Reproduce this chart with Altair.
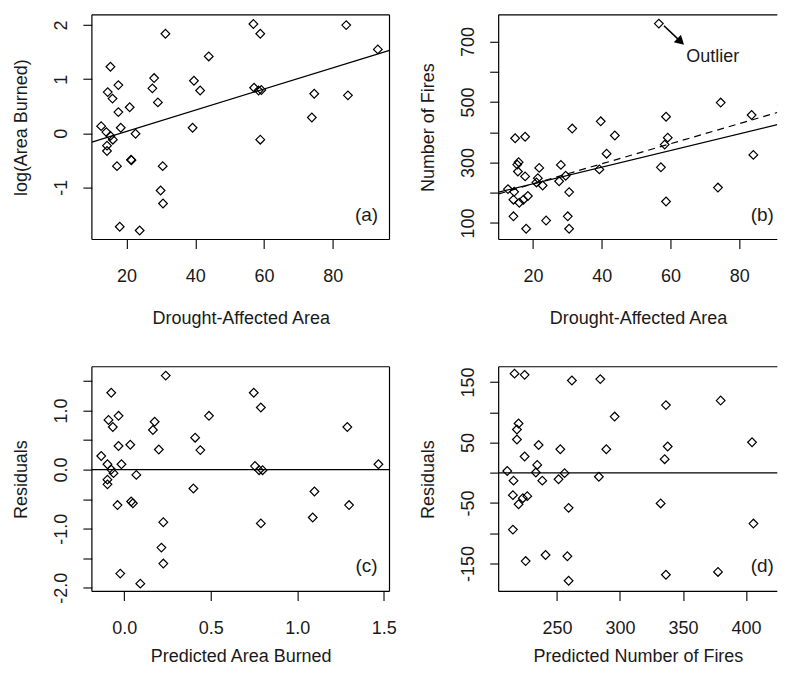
import altair as alt
import pandas as pd

# ---------------- data ----------------
# (a) drought-affected area vs log(area burned)
a_drought = [31.3, 43.9, 15.3, 28.0, 39.6, 17.6, 14.5, 27.5, 41.4, 15.9, 29.1, 20.9,
             17.6, 12.6, 18.3, 39.2, 14.1, 15.3, 16.0, 22.6, 14.3, 14.3, 21.3, 21.4,
             17.2, 30.5, 29.9, 30.6, 18.0, 23.8, 56.9, 58.9, 83.9, 93.1, 57.1, 58.4,
             59.2, 74.6, 84.4, 73.9, 58.9]
a_logarea = [1.84, 1.42, 1.23, 1.02, 0.97, 0.89, 0.76, 0.83, 0.79, 0.64, 0.57, 0.48,
             0.39, 0.13, 0.10, 0.10, 0.02, -0.05, -0.12, -0.01, -0.23, -0.33, -0.49, -0.50,
             -0.61, -0.61, -1.06, -1.30, -1.73, -1.80, 2.02, 1.84, 2.00, 1.55, 0.84, 0.79,
             0.80, 0.73, 0.70, 0.29, -0.12]
a_fit_x = [9.9, 96.5]
a_fit_y = [-0.164, 1.533]

# (b) drought-affected area vs number of fires
b_drought = [31.4, 39.7, 43.8, 14.8, 17.7, 41.4, 28.1, 15.8, 15.4, 15.6, 21.8, 17.7,
             39.3, 21.4, 29.5, 27.6, 21.0, 22.8, 12.7, 14.5, 30.5, 14.3, 16.0, 17.2,
             18.5, 14.3, 23.8, 30.1, 18.0, 30.5, 56.6, 74.6, 58.7, 83.6, 92.6, 59.2,
             58.3, 57.2, 84.1, 73.8, 58.7]
b_fires = [412, 436, 389, 380, 385, 329, 292, 301, 293, 270, 282, 254,
           277, 248, 256, 238, 234, 224, 212, 203, 202, 177, 167, 177,
           189, 122, 108, 122, 81, 81, 759, 498, 451, 457, 490, 382,
           359, 284, 325, 217, 171]
b_fit_x = [10.0, 91.07]
b_fit_y = [202, 425]          # solid line
b_fit_out_y = [196, 465]      # dashed line (fit including the outlier)

# (c) predicted log area burned vs residuals
c_pred = [0.24, -0.075, -0.033, -0.091, -0.066, 0.176, 0.166, 0.49, 0.41, 0.44, -0.033,
          0.035, 0.20, -0.133, -0.097, -0.016, -0.075, -0.062, 0.07, -0.097, -0.097,
          0.40, 0.04, 0.05, -0.039, 0.226, 0.215, 0.226, -0.023, 0.093, 0.749, 0.79,
          1.29, 1.47, 0.756, 0.78, 0.80, 1.10, 1.30, 1.09, 0.79]
c_resid = [1.59, 1.30, 0.91, 0.84, 0.72, 0.81, 0.67, 0.91, 0.54, 0.33, 0.40,
           0.42, 0.34, 0.23, 0.09, 0.09, 0.0, -0.06, -0.09, -0.17, -0.25,
           -0.32, -0.54, -0.57, -0.60, -0.89, -1.32, -1.59, -1.76, -1.93, 1.30, 1.05,
           0.72, 0.09, 0.06, -0.01, -0.01, -0.37, -0.60, -0.81, -0.91]

# (d) predicted number of fires vs residuals
d_pred = [216.4, 224.4, 261.9, 284.4, 295.8, 219.6, 218.3, 218.3, 235.5, 252.7, 289.2,
          224.4, 234.4, 210.6, 233.3, 256.1, 215.6, 238.4, 251.3, 283.3, 215.1, 223.0,
          226.5, 219.6, 259.3, 215.1, 241.0, 258.3, 225.2, 259.3, 336.5, 379.9, 337.9,
          335.5, 404.8, 429.4, 332.3, 405.9, 377.8, 336.5]
d_resid = [164, 162, 152.6, 155, 93, 81.5, 71.6, 55, 46, 39, 39,
           27, 13, 3, 0.5, -0.6, -13, -13, -10.6, -6.6, -37, -42,
           -38.6, -52, -58, -94, -136, -138, -146, -178.5, 112, 119.5, 43.5,
           22.5, 50.6, 62.8, -50.7, -84, -164, -168.6]

# outlier annotation in panel (b)
arrow_x = [58.1, 62.96]
arrow_y = [752, 699.4]
outlier_label = ["Outlier"]
outlier_label_x = [72.3]
outlier_label_y = [649.6]

# ---------------- styling ----------------
FONT = "Liberation Sans"
INK = "#1a1a1a"
W, H = 298, 225        # left column panels
WR = 279               # right column panels are cut by the page edge in the reference
MINUS = "\u2212"
LW = 1.2


def enc_x(dom, vals, title, fmt=None, tpad=24):
    kw = dict(values=vals, title=title, labelAngle=0, labelOverlap=False, labelFlush=False,
              titlePadding=tpad)
    if fmt:
        kw["format"] = fmt
    return alt.X("x:Q", scale=alt.Scale(domain=dom, nice=False, zero=False), axis=alt.Axis(**kw))


def enc_y(dom, vals, title, expr):
    return alt.Y("y:Q", scale=alt.Scale(domain=dom, nice=False, zero=False),
                 axis=alt.Axis(values=vals, title=title, labelExpr=expr, labelAngle=270,
                               labelAlign="center", labelBaseline="bottom",
                               labelOverlap=False, labelFlush=False))


def points(xs, ys, X, Y):
    df = pd.DataFrame({"x": xs, "y": ys})
    return alt.Chart(df).mark_point(shape="diamond", size=76, filled=False, color="black",
                                    strokeWidth=LW, opacity=1, clip=True).encode(x=X, y=Y)


def line(xs, ys, X, Y, dash=None):
    df = pd.DataFrame({"x": xs, "y": ys})
    kw = dict(color="black", strokeWidth=LW, clip=True)
    if dash:
        kw["strokeDash"] = dash
    return alt.Chart(df).mark_line(**kw).encode(x=X, y=Y)


def zero_rule(Y):
    return alt.Chart(pd.DataFrame({"y": [0]})).mark_rule(color="black", strokeWidth=LW).encode(y=Y)


def tag(label, xpos=275):
    return alt.Chart(pd.DataFrame({"t": [label]})).mark_text(
        font=FONT, fontSize=19, color=INK, align="center", baseline="middle"
    ).encode(text="t:N", x=alt.value(xpos), y=alt.value(200))


def frame(w, h, right=True):
    one = pd.DataFrame({"k": [0]})
    r = lambda: alt.Chart(one).mark_rule(color="black", strokeWidth=LW)
    parts = [
        r().encode(x=alt.value(0), x2=alt.value(w), y=alt.value(0)),
        r().encode(x=alt.value(0), x2=alt.value(w), y=alt.value(h)),
        r().encode(x=alt.value(0), y=alt.value(0), y2=alt.value(h)),
    ]
    if right:
        parts.append(r().encode(x=alt.value(w), y=alt.value(0), y2=alt.value(h)))
    return parts


fix = f"replace(datum.label, '{MINUS}', '-')"

# panel (a)
Xa = enc_x([9.9, 96.5], [20, 40, 60, 80], "Drought-Affected Area")
Ya = enc_y([-1.967, 2.19], [-1, 0, 1, 2], "log(Area Burned)", fix)
pa = alt.layer(points(a_drought, a_logarea, Xa, Ya), line(a_fit_x, a_fit_y, Xa, Ya), tag("(a)"),
               *frame(W, H)).properties(width=W, height=H)

# panel (b)
Xb = enc_x([10.0, 91.07], [20, 40, 60, 80], "Drought-Affected Area")
Yb = enc_y([45.3, 788], [100, 200, 300, 400, 500, 600, 700], "Number of Fires",
           "datum.value % 200 == 100 ? datum.label : ''")
arrow = alt.Chart(pd.DataFrame({"x": arrow_x, "y": arrow_y})).mark_line(
    color="black", strokeWidth=1.6).encode(x=Xb, y=Yb)
head = alt.Chart(pd.DataFrame({"x": arrow_x[1:], "y": arrow_y[1:]})).mark_point(
    shape="triangle-up", size=110, filled=True, color="black", angle=133, opacity=1
).encode(x=Xb, y=Yb)
olabel = alt.Chart(pd.DataFrame({"x": outlier_label_x, "y": outlier_label_y, "t": outlier_label})).mark_text(
    font=FONT, fontSize=18, color=INK, align="center", baseline="middle").encode(x=Xb, y=Yb, text="t:N")
pb = alt.layer(points(b_drought, b_fires, Xb, Yb), line(b_fit_x, b_fit_y, Xb, Yb),
               line(b_fit_x, b_fit_out_y, Xb, Yb, dash=[7, 5]), arrow, head, olabel, tag("(b)", 264),
               *frame(WR, H, right=False)).properties(width=WR, height=H)

# panel (c)
Xc = enc_x([-0.187, 1.534], [0, 0.5, 1.0, 1.5], "Predicted Area Burned", fmt=".1f", tpad=10.5)
Yc = enc_y([-2.062, 1.74], [-2, -1.5, -1, -0.5, 0, 0.5, 1, 1.5], "Residuals",
           f"datum.value % 1 == 0 ? replace(format(datum.value, '.1f'), '{MINUS}', '-') : ''")
pc = alt.layer(points(c_pred, c_resid, Xc, Yc), zero_rule(Yc), tag("(c)"),
               *frame(W, H)).properties(width=W, height=H)

# panel (d)
Xd = enc_x([203.8, 424.85], [250, 300, 350, 400], "Predicted Number of Fires", tpad=10.5)
Yd = enc_y([-196.3, 175.4], [-150, -100, -50, 0, 50, 100, 150], "Residuals",
           f"abs(datum.value) % 100 == 50 ? {fix} : ''")
pd_ = alt.layer(points(d_pred, d_resid, Xd, Yd), zero_rule(Yd), tag("(d)", 264),
                *frame(WR, H, right=False)).properties(width=WR, height=H)

chart = alt.concat(pa, pb, pc, pd_, columns=2, spacing={"row": 127.4, "column": 109.3},
                   bounds="flush", align="each")
chart = chart.properties(padding={"left": 5, "top": 5.4, "right": 0, "bottom": 0}).configure_view(
    stroke=None
).configure_axis(
    domain=False, grid=False, ticks=True, tickSize=9, tickColor="black", tickWidth=1.1,
    labelFont=FONT, labelFontSize=18, labelColor=INK,
    titleFont=FONT, titleFontSize=18, titleFontWeight="normal", titleColor=INK,
).configure_axisX(labelPadding=19).configure_axisY(labelPadding=12.5, titlePadding=21.5)

chart.save("out.html", embed_options={"renderer": "svg", "actions": False})
